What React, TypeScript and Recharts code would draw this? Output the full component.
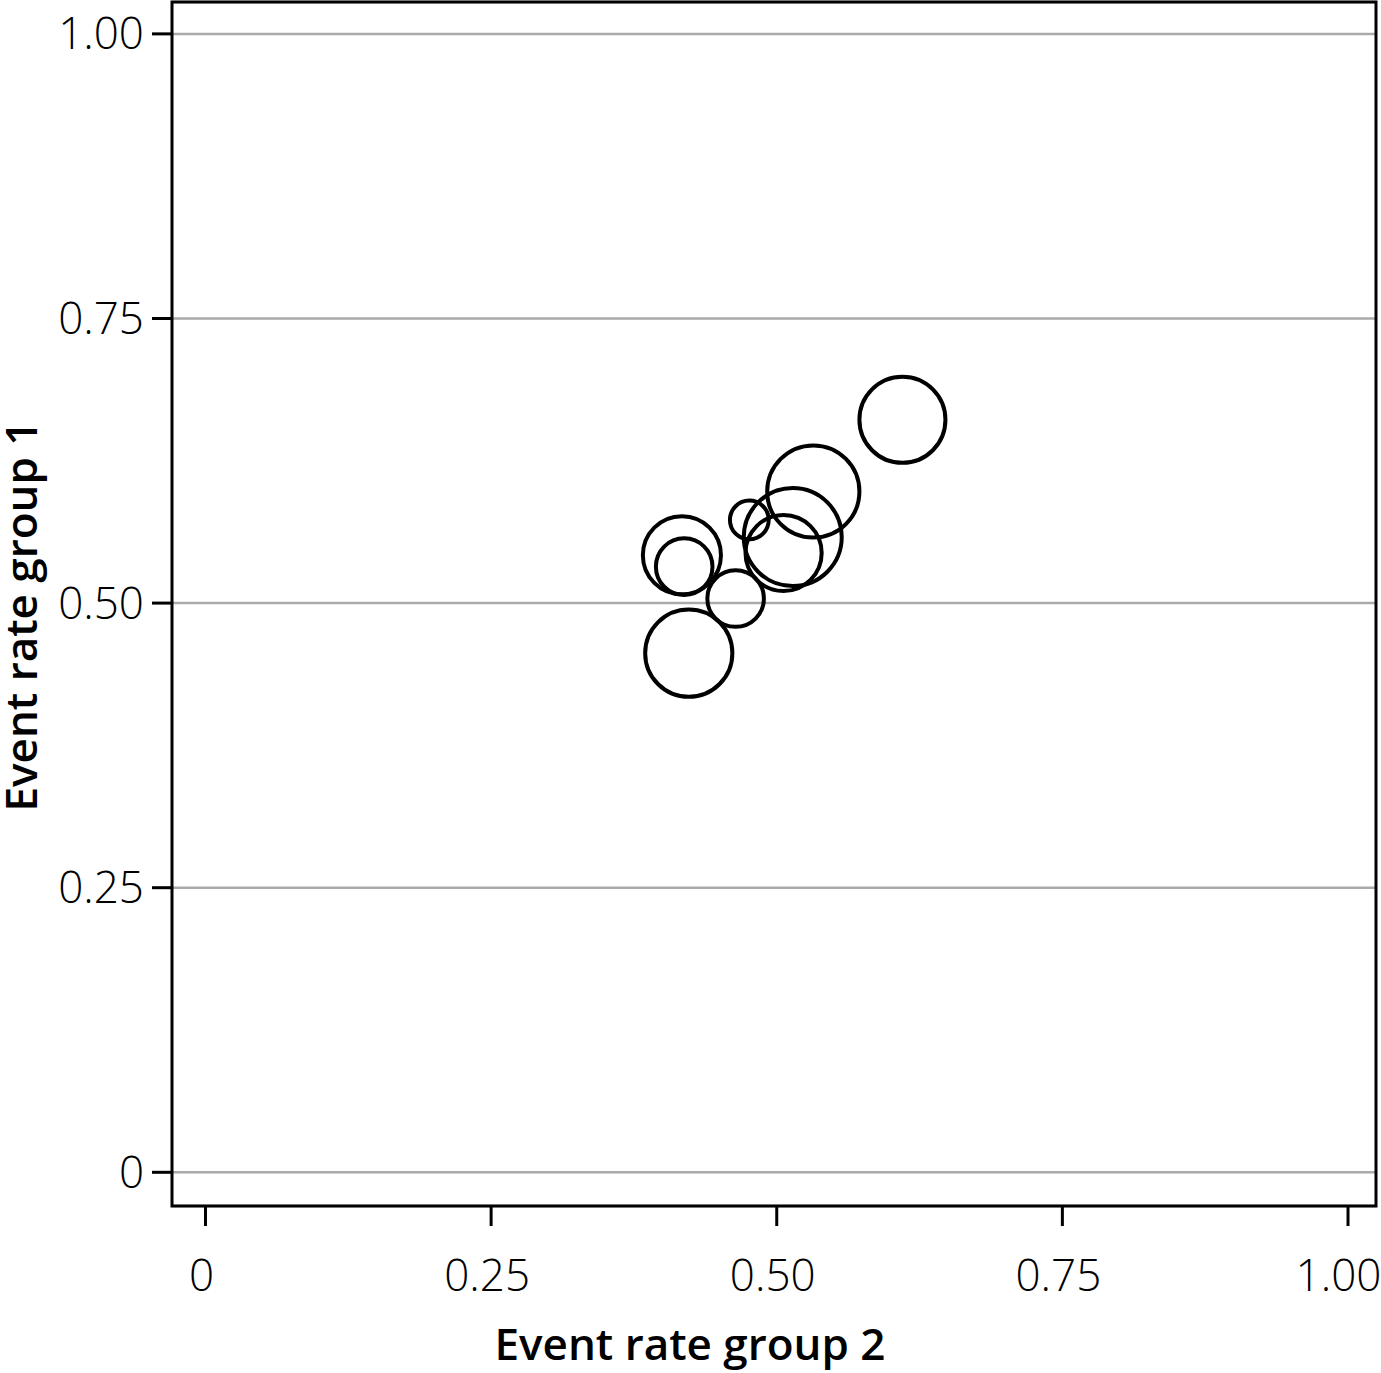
import { ScatterChart, Scatter, XAxis, YAxis, ZAxis, CartesianGrid, ReferenceArea, Label } from 'recharts';

// event rates per study
const rateGroup2 = [0.610, 0.532, 0.514, 0.506, 0.476, 0.417, 0.419, 0.464, 0.423];
const rateGroup1 = [0.661, 0.598, 0.558, 0.544, 0.573, 0.542, 0.532, 0.504, 0.456];
const studyWeight = [74, 85, 96, 58, 15, 61, 32, 32, 76];

const axisTicks = [0, 0.25, 0.5, 0.75, 1];

const xDomain = [-0.0293, 1.0245];
const yDomain = [-0.0296, 1.028];

const data = rateGroup2.map((x, i) => ({ x, y: rateGroup1[i], w: studyWeight[i] }));

const fmt = (v: number) => (v === 0 ? '0' : v.toFixed(2));

const tickFont = { fontSize: 44, fill: '#000', fontFamily: 'Open Sans', fontWeight: 300 };
const titleFont = { fontSize: 44, fill: '#000', fontFamily: 'Open Sans', fontWeight: 600 };

export default function App() {
  return (
    <div style={{ position: 'absolute', left: 0, top: 0, background: '#fff' }}>
      <ScatterChart width={1381} height={1373} margin={{ top: 2, right: 5, left: 0, bottom: 0 }}>
        <CartesianGrid vertical={false} stroke="#aaaaaa" strokeWidth={2.5} />
        <XAxis
          type="number"
          dataKey="x"
          domain={xDomain}
          ticks={axisTicks}
          allowDataOverflow
          tickFormatter={fmt}
          height={167}
          axisLine={false}
          tickLine={{ stroke: '#000', strokeWidth: 3 }}
          tickSize={20}
          tickMargin={34}
          tick={{ ...tickFont, dx: -4 }}
        >
          <Label
            content={() => (
              <text x={690} y={1360} textAnchor="middle" style={titleFont}>
                Event rate group 2
              </text>
            )}
          />
        </XAxis>
        <YAxis
          type="number"
          dataKey="y"
          domain={yDomain}
          ticks={axisTicks}
          allowDataOverflow
          tickFormatter={fmt}
          width={172}
          axisLine={false}
          tickLine={{ stroke: '#000', strokeWidth: 3 }}
          tickSize={20}
          tickMargin={8}
          tick={tickFont}
        >
          <Label
            content={() => (
              <text x={37} y={616} transform="rotate(-90 37 616)" textAnchor="middle" style={titleFont}>
                Event rate group 1
              </text>
            )}
          />
        </YAxis>
        <ZAxis type="number" dataKey="w" domain={[0, 100]} range={[0, Math.PI * 2500]} />
        <ReferenceArea
          x1={xDomain[0]}
          x2={xDomain[1]}
          y1={yDomain[0]}
          y2={yDomain[1]}
          fill="none"
          stroke="#000"
          strokeWidth={3}
          ifOverflow="extendDomain"
        />
        <Scatter data={data} fill="none" stroke="#000" strokeWidth={4} isAnimationActive={false} />
      </ScatterChart>
    </div>
  );
}
